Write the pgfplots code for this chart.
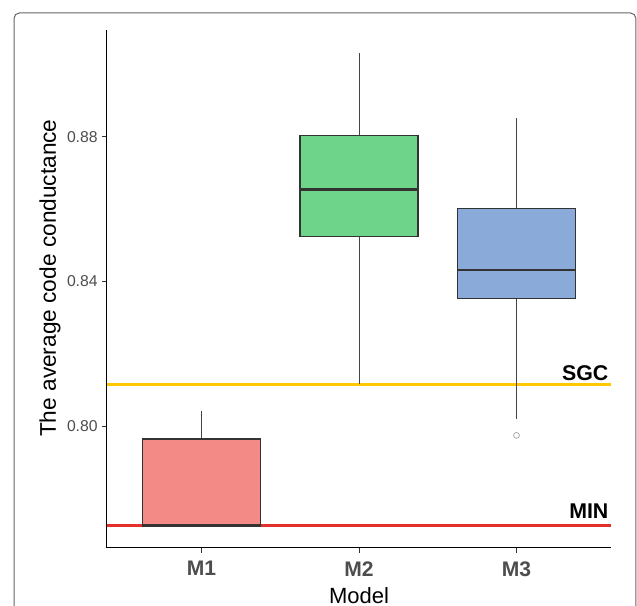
\documentclass[border=0pt]{standalone}
\usepackage{pgfplots}
\pgfplotsset{compat=1.18}
\usepgfplotslibrary{statistics}
\usepackage{fontspec}
\setmainfont{Liberation Sans}
\definecolor{cMone}{HTML}{F48A86}
\definecolor{cMtwo}{HTML}{6DD48A}
\definecolor{cMthree}{HTML}{8AAADA}
\definecolor{sgc}{HTML}{FFC800}
\definecolor{minc}{HTML}{E4302A}
\definecolor{tickgray}{HTML}{4D4D4D}
\definecolor{boxedge}{HTML}{333333}
\definecolor{whisk}{HTML}{444444}
\begin{document}
\begin{tikzpicture}[x=1pt,y=1pt]
\useasboundingbox (0,0) rectangle (477.75,454.5);
\draw[line width=0.75pt, color=black!60, rounded corners=4pt] (10.5,0) -- (10.5,444.75) -- (476.9,444.75) -- (476.9,0);
\begin{axis}[
  at={(80.25pt,43.5pt)}, anchor=south west,
  scale only axis, width=378pt, height=388.5pt,
  xmin=0.4, xmax=3.6, ymin=0.7663, ymax=0.9095,
  axis x line*=bottom, axis y line*=left,
  axis line style={line width=0.75pt, black, -},
  xtick={1,2,3}, xticklabels={M1,M2,M3},
  ytick={0.80,0.84,0.88}, yticklabels={0.80,0.84,0.88},
  tick align=outside, major tick length=3.5pt,
  tick style={line width=0.6pt, color=black!80},
  xticklabel style={font=\fontsize{15.8}{16}\selectfont\bfseries, text=tickgray, yshift=-3pt},
  yticklabel style={font=\fontsize{11.8}{12}\selectfont, text=tickgray},
  xlabel={Model}, ylabel={The average code conductance},
  xlabel style={at={(axis description cs:0.5,-0.1062)}, anchor=base, font=\fontsize{16.5}{17}\selectfont},
  ylabel style={at={(axis description cs:-0.1012,0.521)}, anchor=base, font=\fontsize{17}{18}\selectfont},
  clip=false,
  boxplot/draw direction=y,
  boxplot/every box/.style={draw=boxedge, line width=1pt},
  boxplot/every whisker/.style={draw=whisk, fill=none, line width=0.7pt},
  boxplot/every median/.style={draw=boxedge, line width=1.7pt},
]
\addplot[color=sgc, line width=2.1pt, forget plot] coordinates {(0.4,0.81142) (3.6,0.81142)};
\addplot[color=minc, line width=2.25pt, forget plot] coordinates {(0.4,0.77249) (3.6,0.77249)};
\addplot[fill=cMone, draw=boxedge, mark=none,
  boxplot prepared={draw position=1, lower whisker=0.77255, lower quartile=0.77255, median=0.77255,
    upper quartile=0.79641, upper whisker=0.80415, box extend=0.75, whisker extend=0}] coordinates {};
\addplot[fill=cMtwo, draw=boxedge, mark=none,
  boxplot prepared={draw position=2, lower whisker=0.81161, lower quartile=0.85245, median=0.86544,
    upper quartile=0.88026, upper whisker=0.90304, box extend=0.75, whisker extend=0}] coordinates {};
\addplot[fill=cMthree, draw=boxedge, mark=o, mark size=2.2pt, mark options={draw=black!40, fill=none, line width=0.5pt},
  boxplot prepared={draw position=3, lower whisker=0.80185, lower quartile=0.83531, median=0.84305,
    upper quartile=0.86019, upper whisker=0.88524, box extend=0.75, whisker extend=0}] coordinates {(3,0.79743)};
\node[anchor=base east, inner sep=0pt, font=\fontsize{16}{16}\selectfont\bfseries, yshift=3.3pt] at (axis cs:3.585,0.81142) {SGC};
\node[anchor=base east, inner sep=0pt, font=\fontsize{16}{16}\selectfont\bfseries, yshift=5.4pt] at (axis cs:3.585,0.77249) {MIN};
\end{axis}
\end{tikzpicture}
\end{document}
